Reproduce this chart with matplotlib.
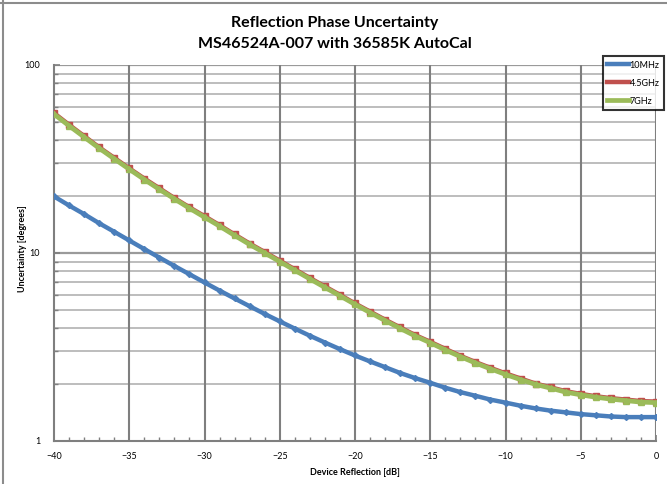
"""Reflection phase uncertainty, MS46524A-007 with 36585K AutoCal."""

import matplotlib.pyplot as plt
from matplotlib.lines import Line2D
from matplotlib.ticker import FixedLocator, NullFormatter

# data
reflection_db = list(range(-40, 1))

unc_10mhz = [20.0, 17.9, 16.1, 14.4, 12.97, 11.66, 10.49, 9.46, 8.53, 7.71,
             6.97, 6.31, 5.73, 5.21, 4.74, 4.33, 3.96, 3.63, 3.34, 3.08,
             2.85, 2.65, 2.47, 2.30, 2.16, 2.04, 1.92, 1.82, 1.74, 1.66,
             1.60, 1.54, 1.49, 1.45, 1.42, 1.39, 1.37, 1.35, 1.34, 1.34,
             1.34]

unc_4p5ghz = [55.5, 48.1, 41.9, 36.5, 32.1, 28.2, 24.9, 22.1, 19.6, 17.5,
              15.7, 14.07, 12.55, 11.23, 10.12, 9.11, 8.19, 7.37, 6.64, 5.99,
              5.39, 4.88, 4.42, 4.02, 3.66, 3.37, 3.09, 2.84, 2.63, 2.45,
              2.29, 2.15, 2.02, 1.93, 1.84, 1.78, 1.73, 1.69, 1.66, 1.63,
              1.62]

unc_7ghz = [54.8, 47.5, 41.4, 36.1, 31.7, 27.9, 24.6, 21.8, 19.4, 17.3,
            15.5, 13.9, 12.4, 11.1, 10.0, 9.0, 8.09, 7.28, 6.56, 5.92,
            5.33, 4.82, 4.37, 3.97, 3.62, 3.33, 3.05, 2.81, 2.60, 2.42,
            2.26, 2.12, 2.00, 1.91, 1.82, 1.76, 1.71, 1.67, 1.64, 1.61,
            1.60]

series_labels = ['10MHz', '4.5GHz', '7GHz']

# basic plot settings
plt.rcParams['font.family'] = ['Lato', 'DejaVu Sans']
plt.rcParams['font.size'] = 7

fig = plt.figure(figsize=(6.67, 4.84), dpi=100)
ax = fig.add_axes([54 / 667, 1 - 441 / 484, 602 / 667, 376 / 484])

# excel style frame edges
fig.add_artist(Line2D([0, 1], [1 - 3 / 484, 1 - 3 / 484], color='#8c8c8c', lw=1.5))
fig.add_artist(Line2D([3 / 667, 3 / 667], [0, 1], color='#8c8c8c', lw=1.5))

ax.set_yscale('log')
ax.set_xlim(-40, 0)
ax.set_ylim(1, 100)

# grid
minor_y = [m * 10 ** e for e in (0, 1) for m in range(2, 10)]
ax.yaxis.set_minor_locator(FixedLocator(minor_y))
ax.yaxis.set_minor_formatter(NullFormatter())
for yv in minor_y:
    ax.axhline(yv, color='#bdbdbd', lw=1.4, zorder=0)
ax.axhline(10, color='#9a9a9a', lw=1.6, zorder=0)
ax.axhline(100, color='#9a9a9a', lw=1.6, zorder=0)
for xv in range(-35, 1, 5):
    ax.axvline(xv, color='#7f7f7f', lw=1.5, zorder=0)

ax.set_xticks(range(-40, 1, 5))
ax.xaxis.set_minor_locator(FixedLocator(range(-40, 1)))
ax.set_yticks([1, 10, 100])
ax.set_yticklabels(['1', '10', '100'])
ax.tick_params(which='both', direction='in', colors='#7f7f7f',
               labelcolor='black', labelsize=6.5)
ax.tick_params(which='major', length=4, width=1.2)
ax.tick_params(which='minor', length=3, width=1.0)
ax.tick_params(axis='x', pad=8)
ax.tick_params(axis='y', pad=10)
for side in ('top', 'right'):
    ax.spines[side].set_visible(False)
for side in ('left', 'bottom'):
    ax.spines[side].set_color('#7f7f7f')
    ax.spines[side].set_linewidth(1.5)

# curves
ax.plot(reflection_db, unc_10mhz, color='#4a7ebb', lw=3.2, marker='D',
        ms=3, label=series_labels[0], zorder=3)
ax.plot(reflection_db, unc_4p5ghz, color='#c0504d', lw=3.2, marker='s',
        ms=4, label=series_labels[1], zorder=3)
ax.plot(reflection_db, unc_7ghz, color='#9bbb59', lw=3.4, marker='^',
        ms=4.5, label=series_labels[2], zorder=4)

ax.set_xlabel('Device Reflection [dB]', fontsize=6.5, fontweight='bold',
              labelpad=5)
fig.text(23 / 667, 1 - 249 / 484, 'Uncertainty [degrees]', rotation=90,
         ha='center', va='center', fontsize=6.5, fontweight='bold')

fig.text(335 / 667, 1 - 23 / 484, 'Reflection Phase Uncertainty',
         ha='center', va='center', fontsize=11.5, fontweight='bold')
fig.text(335 / 667, 1 - 44 / 484, 'MS46524A-007 with 36585K AutoCal',
         ha='center', va='center', fontsize=11.5, fontweight='bold')

leg = ax.legend(loc='upper right', bbox_to_anchor=(664 / 667, 1 - 56 / 484),
                bbox_transform=fig.transFigure, fontsize=6.5, frameon=True,
                fancybox=False, handlelength=2.4, handletextpad=0.05,
                borderpad=0.5, labelspacing=1.0, borderaxespad=0)
leg.get_frame().set_edgecolor('black')
leg.get_frame().set_linewidth(1.5)
for h in leg.legend_handles:
    h.set_marker('')

fig.savefig('out.png', dpi=100)
